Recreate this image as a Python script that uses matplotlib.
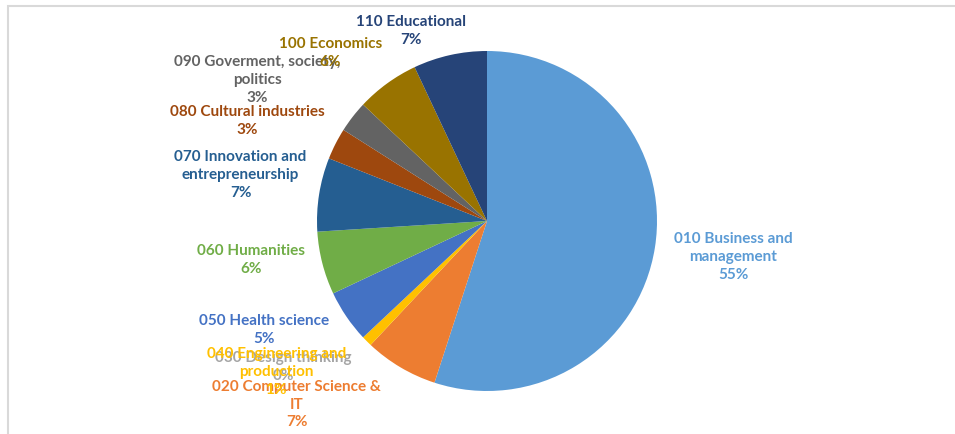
import matplotlib.pyplot as plt
from matplotlib.patches import Rectangle

plt.rcParams['font.family'] = ['Lato', 'DejaVu Sans']

labels = ['010 Business and\nmanagement', '020 Computer Science &\nIT', '030 Design thinking',
          '040 Engineering and\nproduction', '050 Health science', '060 Humanities',
          '070 Innovation and\nentrepreneurship', '080 Cultural industries',
          '090 Goverment, society,\npolitics', '100 Economics', '110 Educational']
shares = [55, 7, 0, 1, 5, 6, 7, 3, 3, 6, 7]
colors = ['#5B9BD5', '#ED7D31', '#A5A5A5', '#FFC000', '#4472C4', '#70AD47',
          '#255E91', '#9E480E', '#636363', '#997300', '#264478']

# where Excel put each label (pie radius = 1)
label_pos = [(1.45, -0.21), (-1.12, -1.08), (-1.20, -0.86), (-1.24, -0.89),
             (-1.31, -0.64), (-1.39, -0.23), (-1.45, 0.27), (-1.41, 0.59),
             (-1.35, 0.83), (-0.92, 0.99), (-0.45, 1.12)]

fig = plt.figure(figsize=(9.55, 4.34), dpi=100)
ax = fig.add_axes([0, 0, 1, 1])
ax.pie(shares, colors=colors, startangle=90, counterclock=False, radius=1,
       wedgeprops=dict(linewidth=0))

for lab, val, col, (x, y) in zip(labels, shares, colors, label_pos):
    ax.text(x, y, f"{lab}\n{val}%", color=col, ha='center', va='center',
            fontsize=11, fontweight='bold', linespacing=1.35)

ax.set_xlim(-487 / 170, (955 - 487) / 170)
ax.set_ylim(-(434 - 221) / 170, 221 / 170)
ax.set_aspect('equal')
ax.axis('off')

# faint chart border
fig.patches.append(Rectangle((8 / 955, -0.1), 1.1, 1 - 6 / 434 + 0.1, transform=fig.transFigure,
                             fill=False, edgecolor='#D9D9D9', linewidth=1.5))

fig.savefig('out.png', dpi=100)
